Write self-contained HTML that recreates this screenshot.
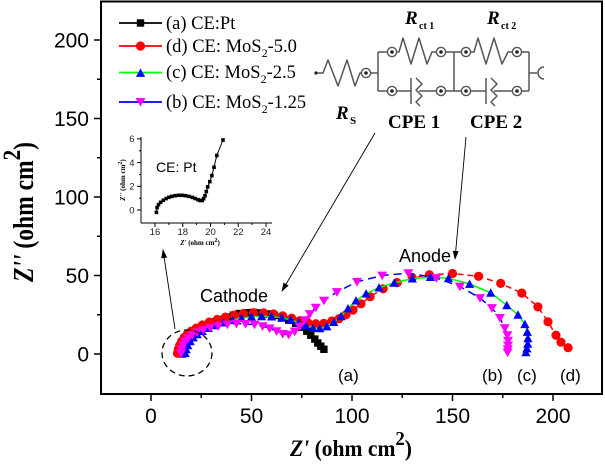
<!DOCTYPE html>
<html><head><meta charset="utf-8"><style>
html,body{margin:0;padding:0;background:#fff;}
svg{display:block;}
</style></head><body>
<svg width="605" height="466" viewBox="0 0 605 466" xmlns="http://www.w3.org/2000/svg">
<defs>
<marker id="sq" markerUnits="userSpaceOnUse" markerWidth="10" markerHeight="10" refX="5" refY="5" orient="0" overflow="visible"><rect x="1.3" y="1.3" width="7.4" height="7.4" fill="#000"/></marker>
<marker id="ci" markerUnits="userSpaceOnUse" markerWidth="10" markerHeight="10" refX="5" refY="5" orient="0" overflow="visible"><circle cx="5" cy="5" r="4.6" fill="#ff0000"/></marker>
<marker id="tu" markerUnits="userSpaceOnUse" markerWidth="10" markerHeight="10" refX="5" refY="5.5" orient="0" overflow="visible"><polygon points="0.4,9.4 5,1 9.6,9.4" fill="#0000ff"/></marker>
<marker id="td" markerUnits="userSpaceOnUse" markerWidth="10" markerHeight="10" refX="5" refY="4.5" orient="0" overflow="visible"><polygon points="0,0.6 10,0.6 5,9.2" fill="#ff00ff"/></marker>
<marker id="isq" markerUnits="userSpaceOnUse" markerWidth="4" markerHeight="4" refX="2" refY="2" orient="0" overflow="visible"><rect x="0.2" y="0.2" width="3.6" height="3.6" fill="#000"/></marker>
<marker id="arr" markerUnits="userSpaceOnUse" markerWidth="9" markerHeight="6" refX="8" refY="3" orient="auto" overflow="visible"><path d="M0,0 L9,3 L0,6 z" fill="#000"/></marker>
</defs>

<!-- frame -->
<rect x="101" y="1.5" width="501" height="392.5" fill="none" stroke="#000" stroke-width="2"/>
<!-- y ticks -->
<g stroke="#000" stroke-width="1.5">
<line x1="94" y1="354" x2="101" y2="354"/>
<line x1="94" y1="275.5" x2="101" y2="275.5"/>
<line x1="94" y1="197" x2="101" y2="197"/>
<line x1="94" y1="118.5" x2="101" y2="118.5"/>
<line x1="94" y1="40" x2="101" y2="40"/>
<line x1="97" y1="314.75" x2="101" y2="314.75"/>
<line x1="97" y1="236.25" x2="101" y2="236.25"/>
<line x1="97" y1="157.75" x2="101" y2="157.75"/>
<line x1="97" y1="79.25" x2="101" y2="79.25"/>
<!-- x ticks -->
<line x1="151" y1="394" x2="151" y2="401"/>
<line x1="251.5" y1="394" x2="251.5" y2="401"/>
<line x1="352" y1="394" x2="352" y2="401"/>
<line x1="452.5" y1="394" x2="452.5" y2="401"/>
<line x1="553" y1="394" x2="553" y2="401"/>
<line x1="201.25" y1="394" x2="201.25" y2="398"/>
<line x1="301.75" y1="394" x2="301.75" y2="398"/>
<line x1="402.25" y1="394" x2="402.25" y2="398"/>
<line x1="502.75" y1="394" x2="502.75" y2="398"/>
</g>
<g font-family="Liberation Sans, Arial, sans-serif" font-size="21" fill="#000">
<text x="89" y="361.5" text-anchor="end">0</text>
<text x="89" y="283" text-anchor="end">50</text>
<text x="89" y="204.5" text-anchor="end">100</text>
<text x="89" y="126" text-anchor="end">150</text>
<text x="89" y="47.5" text-anchor="end">200</text>
<text x="151" y="423" text-anchor="middle">0</text>
<text x="251.5" y="423" text-anchor="middle">50</text>
<text x="352" y="423" text-anchor="middle">100</text>
<text x="452.5" y="423" text-anchor="middle">150</text>
<text x="553" y="423" text-anchor="middle">200</text>
</g>
<!-- axis titles -->
<text x="290" y="456" font-family="Liberation Serif, serif" font-weight="bold" font-size="23" textLength="122" lengthAdjust="spacingAndGlyphs"><tspan font-style="italic">Z'</tspan> (ohm cm<tspan font-size="20" dy="-11">2</tspan><tspan dy="11">)</tspan></text>
<text transform="translate(33,282) rotate(-90)" font-family="Liberation Serif, serif" font-weight="bold" font-size="28" textLength="140" lengthAdjust="spacingAndGlyphs"><tspan font-style="italic">Z''</tspan> (ohm cm<tspan font-size="25" dy="-13">2</tspan><tspan dy="13">)</tspan></text>

<!-- series a black -->
<polyline fill="none" stroke="#000" stroke-width="1.5" marker-start="url(#sq)" marker-mid="url(#sq)" marker-end="url(#sq)" points="182.2,354 183.2,350.9 184.2,347.7 185.6,344.6 187.2,341.4 189.2,338.3 191.2,335.9 194.2,333.6 197.2,331.2 201.3,328.9 205.3,326.5 210.3,324.2 215.3,321.8 221.4,319.5 227.4,317.1 233.4,315.1 239.4,313.5 246.5,312.7 253.5,312.4 260.5,312.9 267.6,314 274.6,315.5 281.7,317.9 288.7,320.2 295.7,323.4 301.8,327.3 306.8,331.2 310.8,335.2 314.8,339.1 317.8,343 320.8,346.2 323.9,349.3"/>
<!-- series d red -->
<polyline fill="none" stroke="#ff0000" stroke-width="1.5" stroke-dasharray="6,4" marker-start="url(#ci)" marker-mid="url(#ci)" marker-end="url(#ci)" points="177.5,353.2 178.3,349.3 179.7,345.4 181.6,341.4 184.2,337.5 187.2,334.4 191.2,331.2 196.2,328.1 202.3,325 209.3,322.1 217.3,319.5 225.4,317.1 234.4,315.1 243.5,313.5 253.5,312.7 263.6,312.9 273.6,314 282.7,315.9 291.7,318.2 299.7,320.7 307.8,322.6 315.8,323.7 323.9,323.4 331.9,321 338.9,318.7 346,314.8 353,310 361,303.8 370.1,296.7 383.2,288.8 397.2,282.6 412.3,277.9 429.4,274.7 452.5,273.5 478.6,276.3 500.7,283.4 521.8,293.1 537.9,306.9 548,321.8 556,335.2 561,342.2 568.1,347.7"/>
<!-- series c blue/green -->
<polyline fill="none" stroke="#00ff00" stroke-width="1.5" marker-start="url(#tu)" marker-mid="url(#tu)" marker-end="url(#tu)" points="185.2,353.2 186.2,349.3 187.8,345.4 190.2,341.4 193.2,337.5 197.2,334.4 202.3,331.2 208.3,328.1 215.3,325.3 223.4,322.6 232.4,320.2 241.5,318.2 251.5,316.8 261.6,316.3 271.6,316.6 281.7,317.9 290.7,319.8 298.7,322.6 305.8,325.7 312.8,328.1 319.8,328.4 326.9,326.5 333.9,322.1 341,316.3 348,308.5 356,300.6 366.1,293.6 379.1,287.6 394.2,282.9 412.3,278.6 430.4,277.1 448.5,278.2 469.6,284 490.7,292.8 506.8,305.3 518,314.8 524.9,324.2 527.3,332 527.9,338.3 527.7,343.8 526.9,348.5 525.9,352.4"/>
<!-- series b magenta/blue -->
<polyline fill="none" stroke="#0000ff" stroke-width="1.5" stroke-dasharray="8,5" marker-start="url(#td)" marker-mid="url(#td)" marker-end="url(#td)" points="181.2,353.2 181.8,349.3 183.2,345.4 185.2,341.4 188.2,338.3 192.2,335.2 197.2,332.3 203.3,330 210.3,327.8 218.3,326.1 227.4,324.5 236.4,323.7 245.5,323.9 254.5,324.6 262.6,326.1 269.6,328.4 276.6,331.2 282.7,333.9 288.7,334.7 294.7,331.5 299.7,326.5 304.8,320.2 309.8,314 315.8,307.7 323.9,300.6 336.9,292 357,281.8 382.2,275.5 408.3,273.1 436.4,278 459.9,286.5 480,298 491.9,308 499.9,317.9 504.8,328.1 507.4,335.2 508,340.7 508,345.4 507.8,349.3 507.6,352.4"/>

<!-- annotations -->
<ellipse cx="187" cy="353" rx="25" ry="23" fill="none" stroke="#000" stroke-width="1.3" stroke-dasharray="6,4"/>
<line x1="175" y1="329" x2="163" y2="250" stroke="#000" stroke-width="0.9" marker-end="url(#arr)"/>
<line x1="375" y1="133" x2="282" y2="291" stroke="#000" stroke-width="0.9" marker-end="url(#arr)"/>
<line x1="466" y1="137" x2="455" y2="259" stroke="#000" stroke-width="0.9" marker-end="url(#arr)"/>
<g font-family="Liberation Sans, Arial, sans-serif" fill="#000">
<text x="200" y="302" font-size="18">Cathode</text>
<text x="399" y="262" font-size="18">Anode</text>
<text x="338" y="381" font-size="17">(a)</text>
<text x="482" y="381" font-size="17">(b)</text>
<text x="517" y="381" font-size="17">(c)</text>
<text x="560" y="381" font-size="17">(d)</text>
</g>

<!-- legend -->
<g stroke-width="1.8">
<line x1="119" y1="23" x2="162" y2="23" stroke="#000"/>
<rect x="136.8" y="19.3" width="7.4" height="7.4" fill="#000"/>
<line x1="119" y1="46" x2="162" y2="46" stroke="#ff0000"/>
<circle cx="140.5" cy="46" r="4.6" fill="#ff0000"/>
<line x1="119" y1="72.5" x2="162" y2="72.5" stroke="#00ff00"/>
<polygon points="135.9,76.9 140.5,68.5 145.1,76.9" fill="#0000ff"/>
<line x1="119" y1="102" x2="162" y2="102" stroke="#0000ff"/>
<polygon points="135.5,98 145.5,98 140.5,106.6" fill="#ff00ff"/>
</g>
<g font-family="Liberation Serif, serif" font-size="18.5" fill="#000">
<text x="166" y="29">(a) CE:Pt</text>
<text x="166" y="52">(d) CE: MoS<tspan font-size="12" dy="5">2</tspan><tspan dy="-5">-5.0</tspan></text>
<text x="166" y="78">(c) CE: MoS<tspan font-size="12" dy="5">2</tspan><tspan dy="-5">-2.5</tspan></text>
<text x="166" y="108">(b) CE: MoS<tspan font-size="12" dy="5">2</tspan><tspan dy="-5">-1.25</tspan></text>
</g>

<!-- circuit -->
<g fill="none" stroke="#555" stroke-width="1.5" stroke-linejoin="round">
<circle cx="316" cy="73" r="1.6" fill="#222" stroke="none"/>
<polyline points="317,73 323,73 328,60 338,86 347,60 355,86 360,73 362,73"/>
<line x1="371" y1="73" x2="378" y2="73"/>
<line x1="378" y1="52" x2="378" y2="91"/>
<line x1="378" y1="52" x2="387" y2="52"/>
<polyline points="397,52 399,52 403,38 411,64 419,38 427,64 432,52 436,52"/>
<line x1="446" y1="52" x2="462" y2="52"/>
<line x1="378" y1="91" x2="387" y2="91"/>
<line x1="397" y1="91" x2="411" y2="91"/>
<line x1="411" y1="78" x2="411" y2="104"/>
<polyline points="416,78 422,84 416,90 422,96 416,102 420,106"/>
<line x1="419" y1="91" x2="436" y2="91"/>
<line x1="446" y1="91" x2="462" y2="91"/>
<line x1="454" y1="52" x2="454" y2="91"/>
<polyline points="471,52 474,52 478,38 486,64 494,38 502,64 508,52 512,52"/>
<line x1="522" y1="52" x2="529" y2="52"/>
<line x1="471" y1="91" x2="486" y2="91"/>
<line x1="486" y1="78" x2="486" y2="104"/>
<polyline points="491,78 497,84 491,90 497,96 491,102 495,106"/>
<line x1="494" y1="91" x2="512" y2="91"/>
<line x1="522" y1="91" x2="529" y2="91"/>
<line x1="529" y1="52" x2="529" y2="91"/>
<line x1="529" y1="73" x2="537" y2="73"/>
<path d="M544,67 A6,6 0 0 0 544,79"/>
</g>
<g stroke="#555" stroke-width="1.4" fill="#fff">
<circle cx="366" cy="73" r="4.6"/>
<circle cx="392" cy="52" r="4.6"/><circle cx="441" cy="52" r="4.6"/>
<circle cx="392" cy="91" r="4.6"/><circle cx="441" cy="91" r="4.6"/>
<circle cx="466" cy="52" r="4.6"/><circle cx="517" cy="52" r="4.6"/>
<circle cx="466" cy="91" r="4.6"/><circle cx="517" cy="91" r="4.6"/>
</g>
<g fill="#222">
<circle cx="366" cy="73" r="1.8"/>
<circle cx="392" cy="52" r="1.8"/><circle cx="441" cy="52" r="1.8"/>
<circle cx="392" cy="91" r="1.8"/><circle cx="441" cy="91" r="1.8"/>
<circle cx="466" cy="52" r="1.8"/><circle cx="517" cy="52" r="1.8"/>
<circle cx="466" cy="91" r="1.8"/><circle cx="517" cy="91" r="1.8"/>
</g>
<g font-family="Liberation Serif, serif" font-weight="bold" fill="#000">
<text x="405" y="24" font-size="19" font-style="italic">R</text>
<text x="419" y="29" font-size="10">ct 1</text>
<text x="487" y="24" font-size="19" font-style="italic">R</text>
<text x="501" y="29" font-size="10">ct 2</text>
<text x="336" y="119" font-size="19" font-style="italic">R</text>
<text x="350" y="124" font-size="11">S</text>
<text x="388" y="128" font-size="19">CPE 1</text>
<text x="470" y="128" font-size="19">CPE 2</text>
</g>

<!-- inset -->
<g stroke="#000" stroke-width="1">
<line x1="141" y1="137" x2="141" y2="223"/>
<line x1="141" y1="223" x2="272" y2="223"/>
<line x1="137" y1="210" x2="141" y2="210"/>
<line x1="137" y1="186.3" x2="141" y2="186.3"/>
<line x1="137" y1="162.6" x2="141" y2="162.6"/>
<line x1="137" y1="138.9" x2="141" y2="138.9"/>
<line x1="139" y1="198.2" x2="141" y2="198.2"/>
<line x1="139" y1="174.5" x2="141" y2="174.5"/>
<line x1="139" y1="150.8" x2="141" y2="150.8"/>
<line x1="155" y1="223" x2="155" y2="227"/>
<line x1="182.75" y1="223" x2="182.75" y2="227"/>
<line x1="210.5" y1="223" x2="210.5" y2="227"/>
<line x1="238.25" y1="223" x2="238.25" y2="227"/>
<line x1="266" y1="223" x2="266" y2="227"/>
<line x1="168.9" y1="223" x2="168.9" y2="225"/>
<line x1="196.6" y1="223" x2="196.6" y2="225"/>
<line x1="224.4" y1="223" x2="224.4" y2="225"/>
<line x1="252.1" y1="223" x2="252.1" y2="225"/>
</g>
<g font-family="Liberation Sans, Arial, sans-serif" font-size="9.5" fill="#222">
<text x="134.5" y="213.3" text-anchor="end">0</text>
<text x="134.5" y="189.6" text-anchor="end">2</text>
<text x="134.5" y="165.9" text-anchor="end">4</text>
<text x="134.5" y="142.2" text-anchor="end">6</text>
<text x="155" y="235" text-anchor="middle">16</text>
<text x="182.75" y="235" text-anchor="middle">18</text>
<text x="210.5" y="235" text-anchor="middle">20</text>
<text x="238.25" y="235" text-anchor="middle">22</text>
<text x="266" y="235" text-anchor="middle">24</text>
</g>
<text x="200" y="245" text-anchor="middle" font-family="Liberation Serif, serif" font-weight="bold" font-size="7" fill="#000"><tspan font-style="italic">Z'</tspan> (ohm cm<tspan font-size="6" dy="-3">2</tspan><tspan dy="3">)</tspan></text>
<text transform="translate(125,180) rotate(-90)" text-anchor="middle" font-family="Liberation Serif, serif" font-weight="bold" font-size="7" fill="#000"><tspan font-style="italic">Z''</tspan> (ohm cm<tspan font-size="6" dy="-3">2</tspan><tspan dy="3">)</tspan></text>
<text x="156" y="172" font-family="Liberation Sans, Arial, sans-serif" font-size="14" fill="#000">CE: Pt</text>
<polyline fill="none" stroke="#000" stroke-width="1" marker-start="url(#isq)" marker-mid="url(#isq)" marker-end="url(#isq)" points="156.4,212.4 157.1,207.6 158.5,204.7 160.6,202.3 163.3,200.3 166.1,198.6 168.9,197.3 171.7,196.4 175.1,195.7 178.6,195.3 182.1,195.3 185.5,195.7 189,196.4 192.5,197.4 195.2,198.5 198,199.7 200.1,200.5 202.2,200.5 203.6,198.7 205,195.8 206.3,191.6 207.7,186.9 209.8,181.6 211.9,175.6 214,167.3 216.8,155.5 223,140"/>
</svg>
</body></html>
